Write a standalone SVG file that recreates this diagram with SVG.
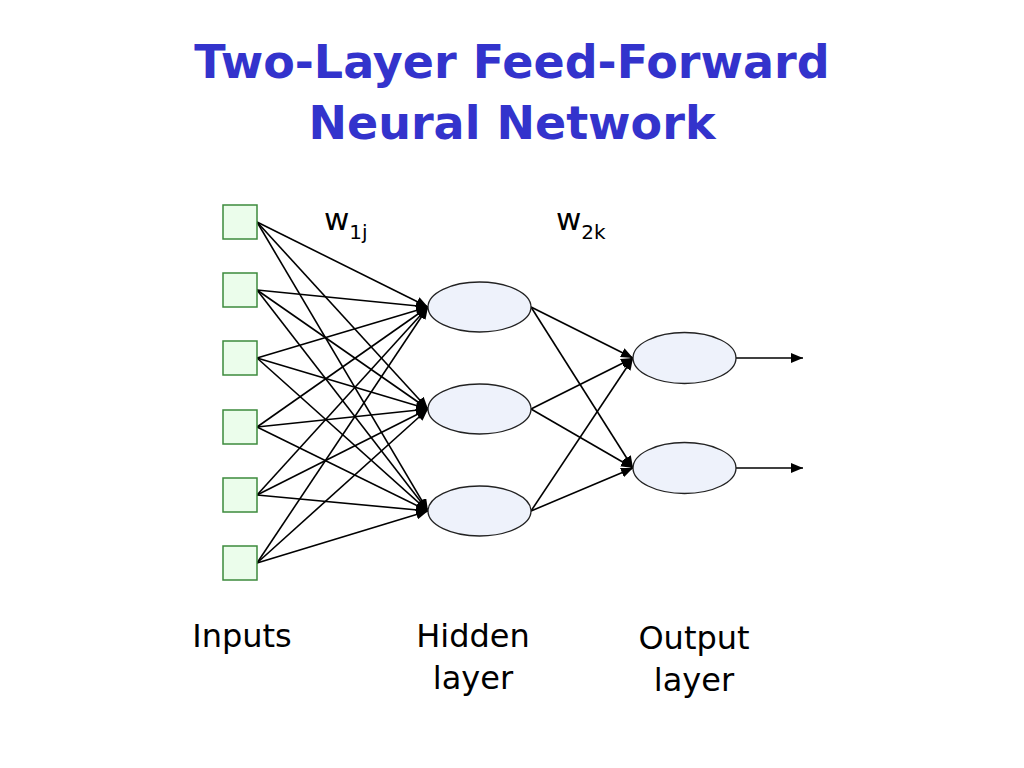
<svg xmlns="http://www.w3.org/2000/svg" width="1024" height="768" viewBox="0 0 1024 768">
<style>
.title{font-family:"DejaVu Sans",sans-serif;font-weight:bold;font-size:46px;fill:#3333cc;text-anchor:middle}
.lbl{font-family:"DejaVu Sans",sans-serif;font-size:32px;fill:#000;text-anchor:middle}
.w{font-family:"DejaVu Sans",sans-serif;font-size:31px;fill:#000}
.inp{fill:#ebfdeb;stroke:#3d8a3d;stroke-width:1.5}
.node{fill:#eef2fb;stroke:#222;stroke-width:1.3}
.edge{stroke:#000;stroke-width:1.6;fill:none;marker-end:url(#ah)}
</style>
<defs>
<marker id="ah" markerUnits="userSpaceOnUse" markerWidth="13" markerHeight="10" refX="12" refY="5" orient="auto">
<path d="M0,0 L12,5 L0,10 z" fill="#000"/>
</marker>
</defs>
<rect width="1024" height="768" fill="#fff"/>
<text class="title" x="512" y="78">Two-Layer Feed-Forward</text>
<text class="title" x="512" y="139">Neural Network</text>
<g id="connectors">
<path class="edge" d="M257,222 L428,307"/><path class="edge" d="M257,222 L428,409"/><path class="edge" d="M257,222 L428,511"/>
<path class="edge" d="M257,290 L428,307"/><path class="edge" d="M257,290 L428,409"/><path class="edge" d="M257,290 L428,511"/>
<path class="edge" d="M257,358 L428,307"/><path class="edge" d="M257,358 L428,409"/><path class="edge" d="M257,358 L428,511"/>
<path class="edge" d="M257,427 L428,307"/><path class="edge" d="M257,427 L428,409"/><path class="edge" d="M257,427 L428,511"/>
<path class="edge" d="M257,495 L428,307"/><path class="edge" d="M257,495 L428,409"/><path class="edge" d="M257,495 L428,511"/>
<path class="edge" d="M257,563 L428,307"/><path class="edge" d="M257,563 L428,409"/><path class="edge" d="M257,563 L428,511"/>
<path class="edge" d="M531,307 L633,358"/><path class="edge" d="M531,307 L633,468"/>
<path class="edge" d="M531,409 L633,358"/><path class="edge" d="M531,409 L633,468"/>
<path class="edge" d="M531,511 L633,358"/><path class="edge" d="M531,511 L633,468"/>
<path class="edge" d="M736,358 L803,358"/><path class="edge" d="M736,468 L803,468"/>
</g>
<g id="in1"><rect class="inp" x="223" y="205" width="34" height="34"/></g>
<g id="in2"><rect class="inp" x="223" y="273" width="34" height="34"/></g>
<g id="in3"><rect class="inp" x="223" y="341" width="34" height="34"/></g>
<g id="in4"><rect class="inp" x="223" y="410" width="34" height="34"/></g>
<g id="in5"><rect class="inp" x="223" y="478" width="34" height="34"/></g>
<g id="in6"><rect class="inp" x="223" y="546" width="34" height="34"/></g>
<g id="h1"><ellipse class="node" cx="479.5" cy="307" rx="51.5" ry="25"/></g>
<g id="h2"><ellipse class="node" cx="479.5" cy="409" rx="51.5" ry="25"/></g>
<g id="h3"><ellipse class="node" cx="479.5" cy="511" rx="51.5" ry="25"/></g>
<g id="o1"><ellipse class="node" cx="684.5" cy="358" rx="51.5" ry="25.5"/></g>
<g id="o2"><ellipse class="node" cx="684.5" cy="468" rx="51.5" ry="25.5"/></g>
<text class="w" x="324" y="230">w<tspan font-size="20" dy="9">1j</tspan></text>
<text class="w" x="556" y="230">w<tspan font-size="20" dy="9">2k</tspan></text>
<text class="lbl" x="242" y="647">Inputs</text>
<text class="lbl" x="473" y="647">Hidden</text>
<text class="lbl" x="473" y="689">layer</text>
<text class="lbl" x="694" y="649">Output</text>
<text class="lbl" x="694" y="691">layer</text>
</svg>
